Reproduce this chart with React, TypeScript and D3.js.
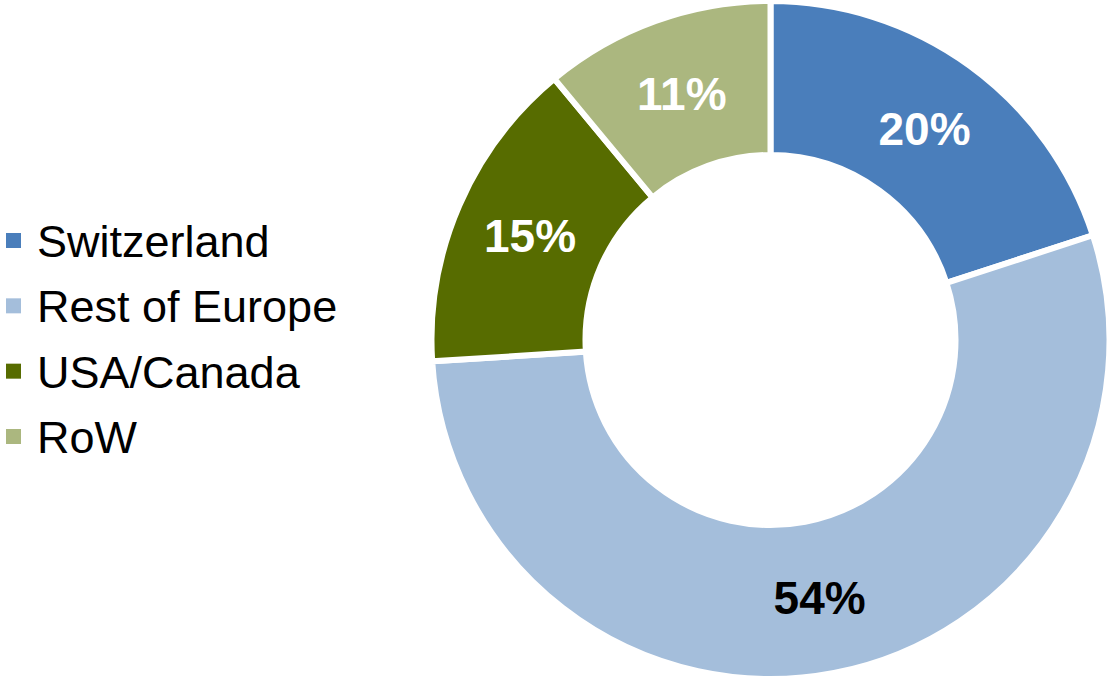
import React from "react";
import * as d3 from "d3";

const categories = ["Switzerland", "Rest of Europe", "USA/Canada", "RoW"];
const values = [20, 54, 15, 11];
const colors = ["#4a7ebb", "#a4bedb", "#576c00", "#abb77f"];
const labelColors = ["#ffffff", "#000000", "#ffffff", "#ffffff"];

export default function App() {
  const width = 1110;
  const height = 679;
  const cx = 770.5;
  const cy = 340;
  const outer = 339;
  const inner = 185;

  const pie = d3.pie<number>().sort(null).value((d) => d)(values);
  const arc = d3.arc<d3.PieArcDatum<number>>().innerRadius(inner).outerRadius(outer);
  const labelArc = d3
    .arc<d3.PieArcDatum<number>>()
    .innerRadius(262)
    .outerRadius(262);

  const legendY = d3
    .scalePoint<string>()
    .domain(categories)
    .range([241, 437]);

  return (
    <svg
      width={width}
      height={height}
      style={{ position: "absolute", left: 0, top: 0 }}
      fontFamily="Liberation Sans, Arial, sans-serif"
    >
      <g transform={`translate(${cx},${cy})`}>
        {pie.map((p, i) => (
          <path key={i} d={arc(p) || ""} fill={colors[i]} stroke="#ffffff" strokeWidth={6} />
        ))}
        {pie.map((p, i) => {
          const [x, y] = labelArc.centroid(p);
          return (
            <text
              key={"l" + i}
              x={x}
              y={y + 16.5}
              textAnchor="middle"
              fontSize={46}
              fontWeight="bold"
              fill={labelColors[i]}
            >
              {values[i]}%
            </text>
          );
        })}
      </g>
      <g>
        {categories.map((c, i) => {
          const y = legendY(c) || 0;
          return (
            <g key={c}>
              <rect x={6} y={y - 8} width={15} height={15} fill={colors[i]} />
              <text x={37} y={y + 16} fontSize={45} fill="#000000">
                {c}
              </text>
            </g>
          );
        })}
      </g>
    </svg>
  );
}
